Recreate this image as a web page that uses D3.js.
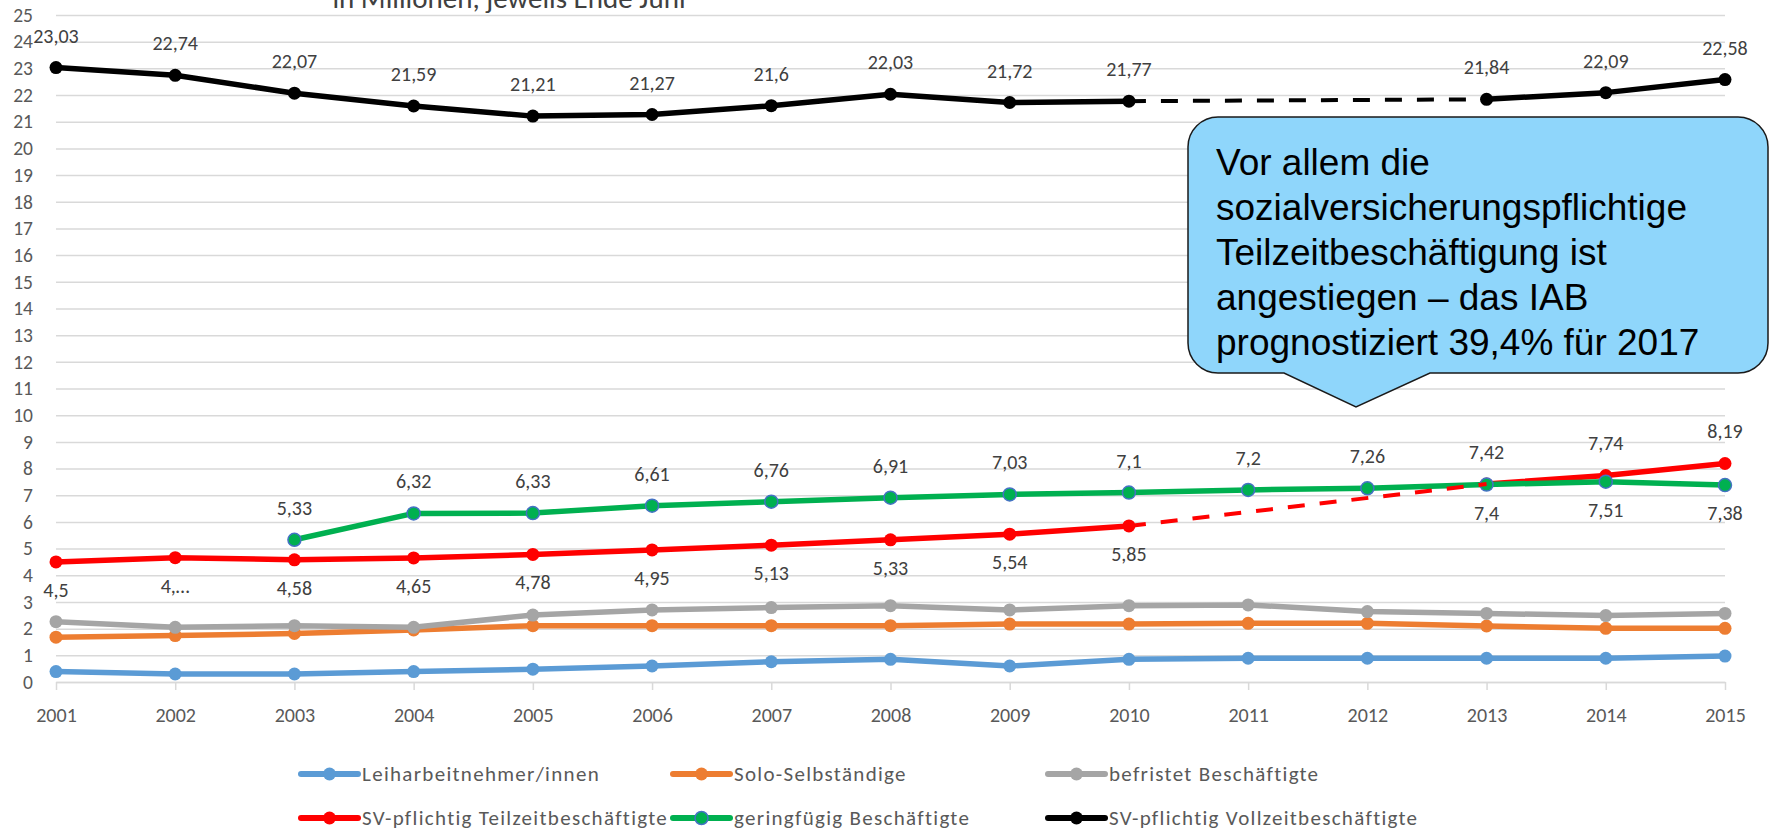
<!DOCTYPE html>
<html>
<head>
<meta charset="utf-8">
<script src="https://cdn.jsdelivr.net/npm/d3@7"></script>
<style>
    body { margin: 0; background: #fff; }
    svg text { font-family: Calibri, Lato, sans-serif; }
</style>
</head>
<body>
<svg id="chart" width="1771" height="832"></svg>
<script>
// Data (Mio., jeweils Ende Juni)
const years = [2001, 2002, 2003, 2004, 2005, 2006, 2007, 2008, 2009, 2010, 2011, 2012, 2013, 2014, 2015];
const leiharbeit = [0.39, 0.30, 0.30, 0.39, 0.48, 0.60, 0.76, 0.85, 0.60, 0.85, 0.89, 0.89, 0.89, 0.89, 0.97];
const soloSelbst = [1.68, 1.74, 1.82, 1.95, 2.11, 2.11, 2.11, 2.11, 2.17, 2.17, 2.20, 2.20, 2.10, 2.01, 2.01];
const befristet = [2.26, 2.05, 2.11, 2.05, 2.51, 2.70, 2.79, 2.86, 2.70, 2.86, 2.89, 2.64, 2.57, 2.49, 2.57];
const teilzeit = [4.5, 4.66, 4.58, 4.65, 4.78, 4.95, 5.13, 5.33, 5.54, 5.85, null, null, 7.42, 7.74, 8.19];
const geringfuegig = [null, null, 5.33, 6.32, 6.33, 6.61, 6.76, 6.91, 7.03, 7.1, 7.2, 7.26, 7.4, 7.51, 7.38];
const vollzeit = [23.03, 22.74, 22.07, 21.59, 21.21, 21.27, 21.6, 22.03, 21.72, 21.77, null, null, 21.84, 22.09, 22.58];

// label text that differs from the plain value (cut off in the original)
const teilzeitLabelText = { 2002: '4,…' };
// which years get their label below the point
const teilzeitBelow = [2001, 2002, 2003, 2004, 2005, 2006, 2007, 2008, 2009, 2010];
const geringBelow = [2013, 2014, 2015];

const yTicks = d3.range(0, 26);
const title = 'in Millionen, jeweils Ende Juni';
const calloutLines = [
    'Vor allem die',
    'sozialversicherungspflichtige',
    'Teilzeitbeschäftigung ist',
    'angestiegen – das IAB',
    'prognostiziert 39,4% für 2017'
];

const series = [
    { name: 'Leiharbeitnehmer/innen', values: leiharbeit, color: '#5b9bd5' },
    { name: 'Solo-Selbständige', values: soloSelbst, color: '#ed7d31' },
    { name: 'befristet Beschäftigte', values: befristet, color: '#a5a5a5' },
    { name: 'SV-pflichtig Teilzeitbeschäftigte', values: teilzeit, color: '#ff0000', labels: true, below: teilzeitBelow, text: teilzeitLabelText },
    { name: 'geringfügig Beschäftigte', values: geringfuegig, color: '#00b050', stroke: '#4472c4', labels: true, below: geringBelow },
    { name: 'SV-pflichtig Vollzeitbeschäftigte', values: vollzeit, color: '#000000', labels: true, below: [] }
];

const margin = { left: 56, right: 46, top: 15, bottom: 150 };
const width = 1771, height = 832;

const svg = d3.select('#chart');

const x = d3.scalePoint()
    .domain(years)
    .range([margin.left, width - margin.right]);

const y = d3.scaleLinear()
    .domain([0, 25])
    .range([height - margin.bottom, margin.top]);

// gridlines + y labels
svg.append('g')
    .attr('class', 'y-axis')
    .attr('transform', `translate(${margin.left},0)`)
    .call(d3.axisLeft(y).tickValues(yTicks).tickSize(-(width - margin.left - margin.right)).tickPadding(23))
    .call(g => g.select('.domain').remove())
    .call(g => g.selectAll('line').attr('stroke', '#d9d9d9').attr('stroke-width', 1.5))
    .call(g => g.selectAll('text').attr('fill', '#595959').style('font-size', '19.5px'));

// x axis
svg.append('g')
    .attr('class', 'x-axis')
    .attr('transform', `translate(0,${y(0)})`)
    .call(d3.axisBottom(x).tickSize(8).tickSizeOuter(0).tickPadding(18))
    .call(g => g.select('.domain').attr('stroke', '#d9d9d9').attr('stroke-width', 1.5))
    .call(g => g.selectAll('line').attr('stroke', '#d9d9d9').attr('stroke-width', 1.5))
    .call(g => g.selectAll('text').attr('fill', '#595959').style('font-size', '20px'));

// title (cut at the top edge like the original)
svg.append('text')
    .attr('x', 509)
    .attr('y', 8)
    .attr('text-anchor', 'middle')
    .attr('fill', '#404040')
    .style('font-size', '29px')
    .text(title);

const line = d3.line()
    .defined(d => d != null)
    .x((d, i) => x(years[i]))
    .y(d => y(d));

const lineLayer = svg.append('g');
const dashLayer = svg.append('g');
const labelLayer = svg.append('g');

series.forEach(s => {
    lineLayer.append('path')
        .datum(s.values)
        .attr('fill', 'none')
        .attr('stroke', s.color)
        .attr('stroke-width', 5.5)
        .attr('stroke-linejoin', 'round')
        .attr('d', line);

    lineLayer.append('g')
        .selectAll('circle')
        .data(s.values.map((v, i) => ({ v, year: years[i] })).filter(d => d.v != null))
        .enter().append('circle')
        .attr('cx', d => x(d.year))
        .attr('cy', d => y(d.v))
        .attr('r', 6.5)
        .attr('fill', s.color)
        .attr('stroke', s.stroke || 'none')
        .attr('stroke-width', 1.5);

    // dashed bridge over missing years
    for (let i = 0; i < s.values.length - 1; i++) {
        if (s.values[i] != null && s.values[i + 1] == null) {
            let j = i + 1;
            while (j < s.values.length && s.values[j] == null) j++;
            if (j < s.values.length) {
                dashLayer.append('line')
                    .attr('x1', x(years[i])).attr('y1', y(s.values[i]))
                    .attr('x2', x(years[j])).attr('y2', y(s.values[j]))
                    .attr('stroke', s.color)
                    .attr('stroke-width', 4)
                    .attr('stroke-dasharray', '17 15');
            }
        }
    }

    if (s.labels) {
        s.values.forEach((v, i) => {
            if (v == null) return;
            const yr = years[i];
            const below = s.below.includes(yr);
            const txt = (s.text && s.text[yr]) || String(v).replace('.', ',');
            const t = labelLayer.append('text')
                .attr('x', x(yr))
                .attr('y', y(v) + (below ? 28 : -32))
                .attr('dy', '0.35em')
                .attr('text-anchor', 'middle')
                .attr('fill', '#404040')
                .style('font-size', '20px')
                .text(txt);
            // keep labels inside the chart on the left side
            const w = t.node().getComputedTextLength();
            if (x(yr) - w / 2 < 30) t.attr('x', 30 + w / 2);
        });
    }
});

// callout
const box = { x0: 1188, y0: 117, x1: 1768, y1: 373, r: 30 };
const tip = { x: 1356, y: 407, left: 1284, right: 1430 };
const p = d3.path();
p.moveTo(box.x0 + box.r, box.y0);
p.lineTo(box.x1 - box.r, box.y0);
p.arcTo(box.x1, box.y0, box.x1, box.y0 + box.r, box.r);
p.lineTo(box.x1, box.y1 - box.r);
p.arcTo(box.x1, box.y1, box.x1 - box.r, box.y1, box.r);
p.lineTo(tip.right, box.y1);
p.lineTo(tip.x, tip.y);
p.lineTo(tip.left, box.y1);
p.lineTo(box.x0 + box.r, box.y1);
p.arcTo(box.x0, box.y1, box.x0, box.y1 - box.r, box.r);
p.lineTo(box.x0, box.y0 + box.r);
p.arcTo(box.x0, box.y0, box.x0 + box.r, box.y0, box.r);
p.closePath();

svg.append('path')
    .attr('d', p.toString())
    .attr('fill', '#8fd6fb')
    .attr('stroke', '#1a1a1a')
    .attr('stroke-width', 1.5);

svg.append('g')
    .selectAll('text')
    .data(calloutLines)
    .enter().append('text')
    .attr('x', 1216)
    .attr('y', (d, i) => 175 + i * 45)
    .attr('fill', '#000')
    .style('font-family', '"Liberation Sans", Arial, sans-serif')
    .style('font-size', '37px')
    .text(d => d);

// legend
const legendCols = [301, 673, 1048];
const legendRows = [774, 818];
const legend = svg.append('g').attr('class', 'legend');
series.forEach((s, i) => {
    const lx = legendCols[i % 3];
    const ly = legendRows[Math.floor(i / 3)];
    const item = legend.append('g').attr('transform', `translate(${lx},${ly})`);
    item.append('line')
        .attr('x1', 0).attr('x2', 57)
        .attr('stroke', s.color)
        .attr('stroke-width', 6)
        .attr('stroke-linecap', 'round');
    item.append('circle')
        .attr('cx', 28.5).attr('r', 6.5)
        .attr('fill', s.color)
        .attr('stroke', s.stroke || 'none')
        .attr('stroke-width', 1.5);
    item.append('text')
        .attr('x', 61)
        .attr('dy', '0.35em')
        .attr('fill', '#595959')
        .style('font-size', '21px')
        .style('letter-spacing', '1.3px')
        .text(s.name);
});
</script>
</body>
</html>
